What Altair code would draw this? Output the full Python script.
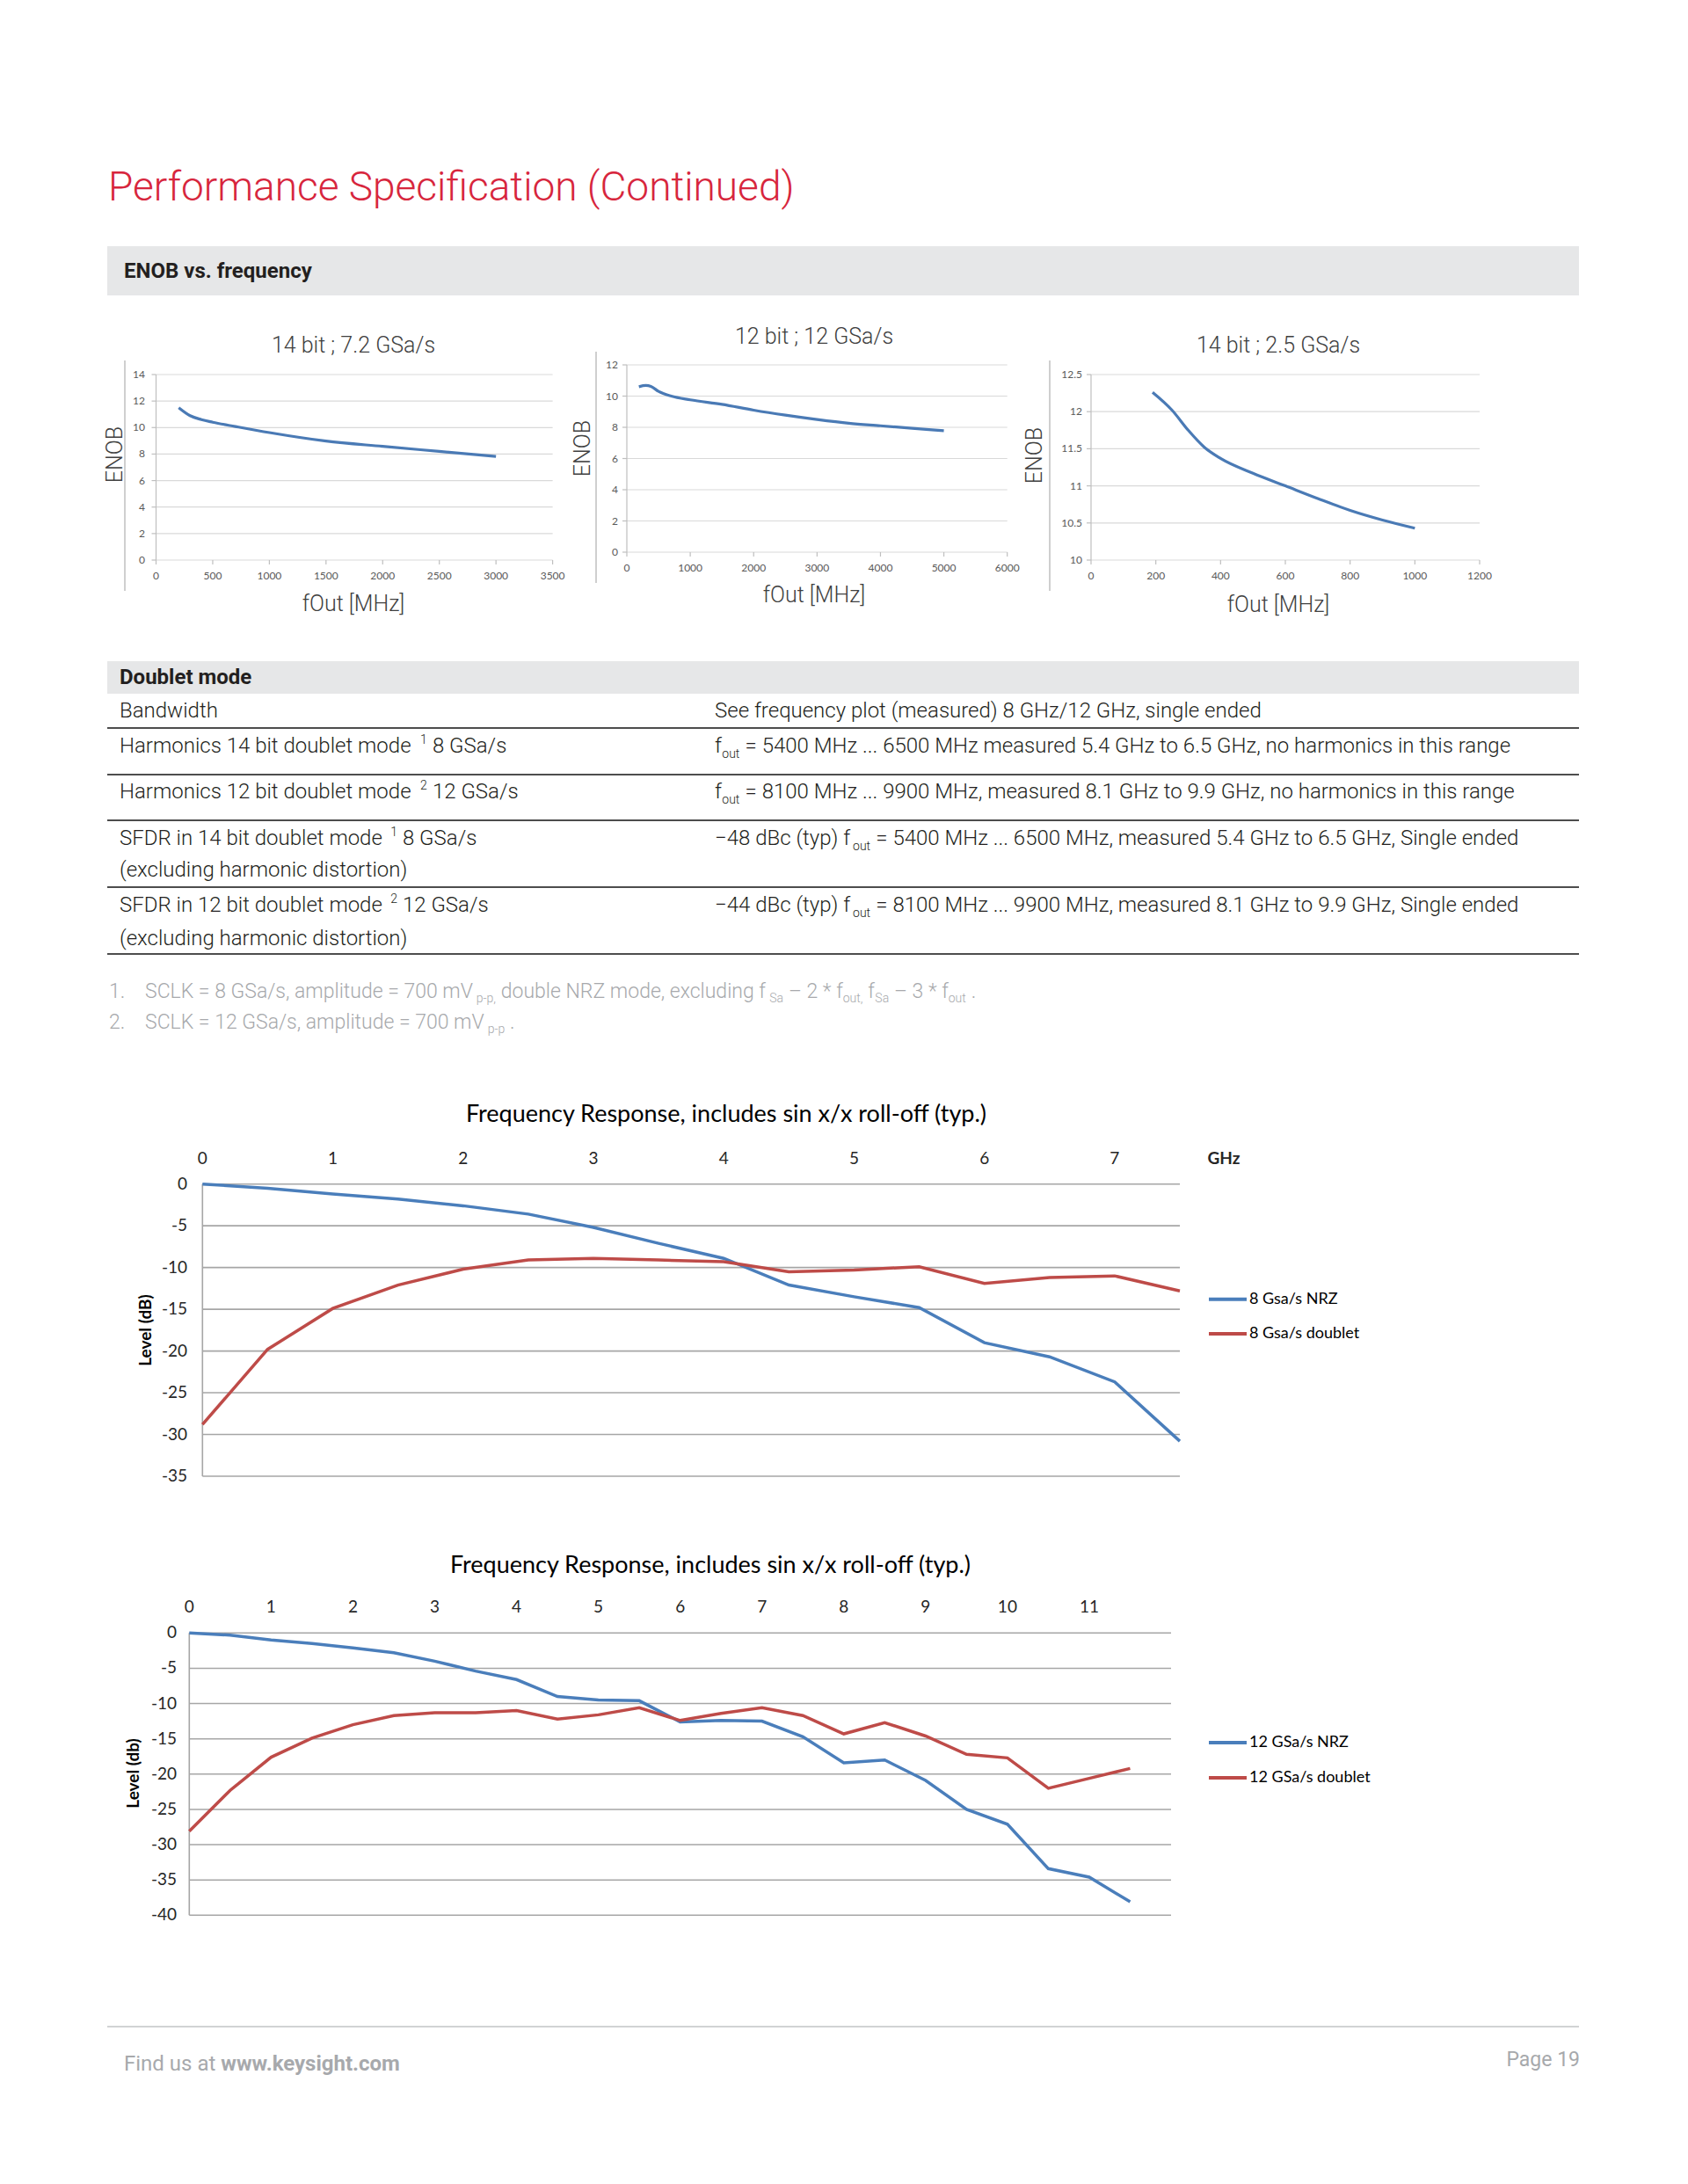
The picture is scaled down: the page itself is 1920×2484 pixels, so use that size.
import altair as alt
import pandas as pd

# ---------------- data ----------------
enob1_freq = [200, 300, 400, 500, 700, 1000, 1500, 2000, 2500, 3000]
enob1_val = [11.5, 10.9, 10.6, 10.4, 10.08, 9.62, 8.98, 8.58, 8.2, 7.82]
enob1_xticks = [0, 500, 1000, 1500, 2000, 2500, 3000, 3500]
enob1_yticks = [0, 2, 4, 6, 8, 10, 12, 14]

enob2_freq = [190, 300, 380, 500, 700, 1000, 1500, 2000, 2500, 3000, 3500, 4000, 4500, 5000]
enob2_val = [10.6, 10.68, 10.62, 10.3, 10.0, 9.76, 9.47, 9.1, 8.78, 8.5, 8.26, 8.1, 7.94, 7.78]
enob2_xticks = [0, 1000, 2000, 3000, 4000, 5000, 6000]
enob2_yticks = [0, 2, 4, 6, 8, 10, 12]

enob3_freq = [190, 250, 300, 350, 400, 500, 600, 700, 800, 900, 1000]
enob3_val = [12.26, 12.02, 11.75, 11.52, 11.37, 11.17, 11.0, 10.83, 10.67, 10.54, 10.43]
enob3_xticks = [0, 200, 400, 600, 800, 1000, 1200]
enob3_yticks = [10, 10.5, 11, 11.5, 12, 12.5]

enob_titles = ["14 bit ; 7.2 GSa/s", "12 bit ; 12 GSa/s", "14 bit ; 2.5 GSa/s"]

fr1_freq = [0, 0.5, 1, 1.5, 2, 2.5, 3, 3.5, 4, 4.5, 5, 5.5, 6, 6.5, 7, 7.5]
fr1_nrz = [0, -0.5, -1.2, -1.8, -2.6, -3.6, -5.2, -7.1, -8.9, -12.1, -13.5, -14.8, -19.0, -20.7, -23.7, -30.8]
fr1_doublet = [-28.8, -19.8, -14.9, -12.1, -10.2, -9.1, -8.9, -9.1, -9.3, -10.5, -10.3, -9.9, -11.9, -11.2, -11.0, -12.8]
fr1_series = ["8 Gsa/s NRZ", "8 Gsa/s doublet"]
fr1_xticks = [0, 1, 2, 3, 4, 5, 6, 7]
fr1_yticks = [0, -5, -10, -15, -20, -25, -30, -35]

fr2_freq = [0, 0.5, 1, 1.5, 2, 2.5, 3, 3.5, 4, 4.5, 5, 5.5, 6, 6.5, 7, 7.5, 8, 8.5, 9, 9.5, 10, 10.5, 11, 11.5]
fr2_nrz = [0, -0.3, -1.0, -1.5, -2.1, -2.8, -4.0, -5.4, -6.6, -9.0, -9.5, -9.6, -12.6, -12.4, -12.5, -14.7,
           -18.4, -18.0, -20.9, -25.0, -27.1, -33.4, -34.6, -38.1]
fr2_doublet = [-28.1, -22.3, -17.6, -14.9, -13.0, -11.7, -11.3, -11.3, -11.0, -12.2, -11.6, -10.6, -12.4, -11.4,
               -10.6, -11.7, -14.3, -12.7, -14.6, -17.2, -17.7, -22.0, -20.6, -19.2]
fr2_series = ["12 GSa/s NRZ", "12 GSa/s doublet"]
fr2_xticks = [0, 1, 2, 3, 4, 5, 6, 7, 8, 9, 10, 11]
fr2_yticks = [0, -5, -10, -15, -20, -25, -30, -35, -40]

fr_title = "Frequency Response, includes sin x/x roll-off (typ.)"

# table text segments: (text, kind) with kind n = normal, sub = subscript, sup = superscript
table_left = [
    [("Bandwidth", "n")],
    [("Harmonics 14 bit doublet mode ", "n"), ("1", "sup"), (" 8 GSa/s", "n")],
    [("Harmonics 12 bit doublet mode ", "n"), ("2", "sup"), (" 12 GSa/s", "n")],
    [("SFDR in 14 bit doublet mode ", "n"), ("1", "sup"), (" 8 GSa/s", "n")],
    [("SFDR in 12 bit doublet mode ", "n"), ("2", "sup"), (" 12 GSa/s", "n")],
]
table_left2 = ["", "", "", "(excluding harmonic distortion)", "(excluding harmonic distortion)"]
table_right = [
    [("See frequency plot (measured) 8 GHz/12 GHz, single ended", "n")],
    [("f", "n"), ("out", "sub"), (" = 5400 MHz ... 6500 MHz measured 5.4 GHz to 6.5 GHz, no harmonics in this range", "n")],
    [("f", "n"), ("out", "sub"), (" = 8100 MHz ... 9900 MHz, measured 8.1 GHz to 9.9 GHz, no harmonics in this range", "n")],
    [("−48 dBc (typ) f", "n"), ("out", "sub"), (" = 5400 MHz ... 6500 MHz, measured 5.4 GHz to 6.5 GHz, Single ended", "n")],
    [("−44 dBc (typ) f", "n"), ("out", "sub"), (" = 8100 MHz ... 9900 MHz, measured 8.1 GHz to 9.9 GHz, Single ended", "n")],
]
footnotes = [
    [("SCLK = 8 GSa/s, amplitude = 700 mV", "n"), ("p-p,", "sub"), (" double NRZ mode, excluding f", "n"),
     ("Sa", "sub"), (" – 2 * f", "n"), ("out,", "sub"), (" f", "n"), ("Sa", "sub"), (" – 3 * f", "n"),
     ("out", "sub"), (" .", "n")],
    [("SCLK = 12 GSa/s, amplitude = 700 mV", "n"), ("p-p", "sub"), (" .", "n")],
]

# ---------------- styles / helpers ----------------
M = 8
def P(v):
    return v - M

RED = "#d7263d"
BAR = "#e6e7e8"
INK = "#231f20"
GREY = "#a7a9ac"
ENOB_BLUE = "#4a7ab5"
FR_BLUE = "#4a7ebb"
FR_RED = "#be4b48"

# approximate Roboto advance widths (em)
W = {" ": .248, "(": .342, ")": .348, "*": .431, ",": .196, "-": .276, ".": .263, "/": .412, "=": .549,
     "−": .568, "–": .6, ";": .212,
     "A": .652, "B": .622, "C": .650, "D": .655, "E": .568, "F": .553, "G": .681, "H": .713, "I": .272,
     "K": .627, "L": .538, "M": .873, "N": .713, "O": .688, "P": .631, "R": .616, "S": .593, "T": .597,
     "V": .636, "Z": .599,
     "a": .544, "b": .561, "c": .523, "d": .564, "e": .529, "f": .347, "g": .561, "h": .551, "i": .243,
     "j": .239, "k": .507, "l": .243, "m": .876, "n": .552, "o": .570, "p": .561, "q": .568, "r": .339,
     "s": .516, "t": .327, "u": .551, "v": .484, "w": .751, "x": .496, "y": .473, "z": .496}
for dgt in "0123456789":
    W[dgt] = .562


def tw(s, size):
    return sum(W.get(c, .55) for c in s) * size


dummy = pd.DataFrame({"d": [0]})
layers = []


def text(s, x, y, size, color=INK, font="Roboto", weight=300, align="left", baseline="middle", angle=None):
    kw = dict(align=align, baseline=baseline, fontSize=size, font=font, fontWeight=weight, color=color)
    if angle is not None:
        kw["angle"] = angle
    return alt.Chart(dummy).mark_text(**kw).encode(
        x=alt.value(P(x)), y=alt.value(P(y)), text=alt.value(s))


def chain(segs, x, y, size, small, color=INK, weight=300, sub_dy=9, sup_dy=-7):
    out = []
    for s, kind in segs:
        sz = size if kind == "n" else small
        lead = len(s) - len(s.lstrip(" "))
        x += lead * W[" "] * sz
        core = s.strip(" ")
        dy = sub_dy if kind == "sub" else (sup_dy if kind == "sup" else 0)
        if core:
            out.append(text(core, x, y + dy, sz, color=color, weight=weight))
        x += tw(core, sz)
        trail = len(s.lstrip(" ")) - len(core)
        x += trail * W[" "] * sz
    return out


def hrule(x0, x1, y, color, w):
    return alt.Chart(dummy).mark_rule(color=color, strokeWidth=w).encode(
        x=alt.value(P(x0)), x2=alt.value(P(x1)), y=alt.value(P(y)))


def vrule(x, y0, y1, color, w):
    return alt.Chart(dummy).mark_rule(color=color, strokeWidth=w).encode(
        x=alt.value(P(x)), y=alt.value(P(y0)), y2=alt.value(P(y1)))


def rect(x0, x1, y0, y1, color):
    return alt.Chart(dummy).mark_rect(color=color).encode(
        x=alt.value(P(x0)), x2=alt.value(P(x1)), y=alt.value(P(y0)), y2=alt.value(P(y1)))


def enob_panel(freq, val, xticks, yticks, title, g):
    xs = alt.Scale(domain=[xticks[0], xticks[-1]], range=[P(g["x0"]), P(g["x1"])], nice=False, zero=False)
    ys = alt.Scale(domain=[yticks[0], yticks[-1]], range=[P(g["yb"]), P(g["yt"])], nice=False, zero=False)
    xdf = pd.DataFrame({"t": xticks, "lab": [f"{t:g}" for t in xticks]})
    ydf = pd.DataFrame({"t": yticks, "lab": [f"{t:g}" for t in yticks]})
    ydf["a"] = xticks[0]
    ydf["b"] = xticks[-1]
    out = []
    out.append(alt.Chart(ydf).mark_rule(color="#d9d9d9", strokeWidth=1.2).encode(
        x=alt.X("a:Q", scale=xs, axis=None), x2="b:Q", y=alt.Y("t:Q", scale=ys, axis=None)))
    out.append(alt.Chart(pd.DataFrame({"x": [xticks[0]], "y0": [yticks[0]], "y1": [yticks[-1]]}))
               .mark_rule(color="#bfbfbf", strokeWidth=1.2).encode(
        x=alt.X("x:Q", scale=xs, axis=None), y=alt.Y("y0:Q", scale=ys, axis=None), y2="y1:Q"))
    out.append(alt.Chart(xdf).mark_rule(color="#bfbfbf", strokeWidth=1.2).encode(
        x=alt.X("t:Q", scale=xs, axis=None), y=alt.value(P(g["yb"])), y2=alt.value(P(g["yb"] + 5))))
    out.append(alt.Chart(ydf).mark_rule(color="#bfbfbf", strokeWidth=1.2).encode(
        y=alt.Y("t:Q", scale=ys, axis=None), x=alt.value(P(g["x0"] - 5)), x2=alt.value(P(g["x0"]))))
    out.append(alt.Chart(xdf).mark_text(font="Lato", fontSize=12, color="#595959", baseline="middle").encode(
        x=alt.X("t:Q", scale=xs, axis=None), y=alt.value(P(g["xlab_y"])), text="lab:N"))
    out.append(alt.Chart(ydf).mark_text(font="Lato", fontSize=12, color="#595959", align="right",
                                        baseline="middle").encode(
        y=alt.Y("t:Q", scale=ys, axis=None), x=alt.value(P(g["ylab_x"])), text="lab:N"))
    out.append(alt.Chart(pd.DataFrame({"f": freq, "v": val})).mark_line(
        color=ENOB_BLUE, strokeWidth=3.2, interpolate="monotone").encode(
        x=alt.X("f:Q", scale=xs, axis=None), y=alt.Y("v:Q", scale=ys, axis=None)))
    out.append(text(title, g["tx"], g["ty"], 25, color="#404040", align="center"))
    out.append(text("ENOB", g["ex"], g["ey"], 25, color="#404040", align="center", angle=270))
    out.append(text("fOut [MHz]", g["tx"], g["xty"], 25, color="#404040", align="center"))
    out.append(vrule(g["sep"], g["sep0"], g["sep1"], "#bfbfbf", 1.5))
    return out


def fr_panel(freq, nrz, dbl, names, xticks, xmax, yticks, ytitle, g):
    xs = alt.Scale(domain=[0, xmax], range=[P(g["x0"]), P(g["x1"])], nice=False, zero=False)
    ys = alt.Scale(domain=[yticks[-1], yticks[0]], range=[P(g["yb"]), P(g["yt"])], nice=False, zero=False)
    xdf = pd.DataFrame({"t": xticks, "lab": [f"{t:g}" for t in xticks]})
    ydf = pd.DataFrame({"t": yticks, "lab": [f"{t:g}" for t in yticks]})
    ydf["a"] = 0
    ydf["b"] = xmax
    df = pd.DataFrame({"f": freq + freq, "v": nrz + dbl,
                       "s": [names[0]] * len(freq) + [names[1]] * len(freq)})
    out = []
    out.append(alt.Chart(ydf).mark_rule(color="#a6a6a6", strokeWidth=1.6).encode(
        x=alt.X("a:Q", scale=xs, axis=None), x2="b:Q", y=alt.Y("t:Q", scale=ys, axis=None)))
    out.append(alt.Chart(pd.DataFrame({"x": [0], "y0": [yticks[-1]], "y1": [yticks[0]]}))
               .mark_rule(color="#a6a6a6", strokeWidth=1.6).encode(
        x=alt.X("x:Q", scale=xs, axis=None), y=alt.Y("y0:Q", scale=ys, axis=None), y2="y1:Q"))
    out.append(alt.Chart(xdf).mark_text(font="Lato", fontSize=19, color="#262626", baseline="middle").encode(
        x=alt.X("t:Q", scale=xs, axis=None), y=alt.value(P(g["xlab_y"])), text="lab:N"))
    out.append(alt.Chart(ydf).mark_text(font="Lato", fontSize=19, color="#262626", align="right",
                                        baseline="middle").encode(
        y=alt.Y("t:Q", scale=ys, axis=None), x=alt.value(P(g["ylab_x"])), text="lab:N"))
    out.append(alt.Chart(df).mark_line(strokeWidth=3.5).encode(
        x=alt.X("f:Q", scale=xs, axis=None), y=alt.Y("v:Q", scale=ys, axis=None),
        color=alt.Color("s:N", scale=alt.Scale(domain=names, range=[FR_BLUE, FR_RED]), legend=None)))
    out.append(text(fr_title, g["tx"], g["ty"], 27, color="#000000", font="Lato", weight=400, align="center"))
    out.append(text(ytitle, g["lx"], g["ly"], 19, color="#000000", font="Lato", weight=700,
                    align="center", angle=270))
    if g.get("ghz"):
        out.append(text("GHz", g["ghz"], g["xlab_y"], 19, color="#262626", font="Lato", weight=700, align="center"))
    for i, (nm, col) in enumerate(zip(names, [FR_BLUE, FR_RED])):
        yy = g["leg_y"][i]
        out.append(hrule(1375, 1418, yy, col, 4))
        out.append(text(nm, 1421, yy, 18, color="#000000", font="Lato", weight=400))
    return out


# ---------------- page header ----------------
layers.append(text("Performance Specification (Continued)", 123, 214, 46, color=RED, weight=300))
layers.append(rect(122, 1796, 280, 336, BAR))
layers.append(text("ENOB vs. frequency", 141, 309, 24, color=INK, weight=700))

# ---------------- ENOB charts ----------------
layers += enob_panel(enob1_freq, enob1_val, enob1_xticks, enob1_yticks, enob_titles[0], dict(
    x0=177.5, x1=628.6, yb=637, yt=426, xlab_y=655, ylab_x=165, tx=402, ty=393, ex=131, ey=517,
    xty=687, sep=142, sep0=410, sep1=672))
layers += enob_panel(enob2_freq, enob2_val, enob2_xticks, enob2_yticks, enob_titles[1], dict(
    x0=713, x1=1145.7, yb=628, yt=415, xlab_y=646, ylab_x=703, tx=926, ty=383, ex=663, ey=510,
    xty=677, sep=678, sep0=400, sep1=663))
layers += enob_panel(enob3_freq, enob3_val, enob3_xticks, enob3_yticks, enob_titles[2], dict(
    x0=1241, x1=1683, yb=637, yt=426, xlab_y=655, ylab_x=1231, tx=1454, ty=393, ex=1177, ey=518,
    xty=688, sep=1194, sep0=410, sep1=672))

# ---------------- doublet table ----------------
layers.append(rect(122, 1796, 752, 789, BAR))
layers.append(text("Doublet mode", 136, 771, 24, color=INK, weight=700))
TS = 24
SS = 14
C1, C2 = 136, 813
row_y = [809, 849, 901, 954, 1030]
row_y2 = [0, 0, 0, 990, 1068]
for i in range(5):
    layers += chain(table_left[i], C1, row_y[i], TS, SS)
    layers += chain(table_right[i], C2, row_y[i], TS, SS)
    if table_left2[i]:
        layers.append(text(table_left2[i], C1, row_y2[i], TS))
for yl in [828, 881, 933, 1009, 1085]:
    layers.append(hrule(122, 1796, yl, "#4d4d4d", 2))

# ---------------- footnotes ----------------
FS = 23
for i, (segs, yy) in enumerate(zip(footnotes, [1128, 1163])):
    layers.append(text(f"{i + 1}.", 124, yy, FS, color=GREY))
    layers += chain(segs, 165, yy, FS, 14, color=GREY, sub_dy=8)

# ---------------- frequency response charts ----------------
layers += fr_panel(fr1_freq, fr1_nrz, fr1_doublet, fr1_series, fr1_xticks, 7.5, fr1_yticks, "Level (dB)", dict(
    x0=230.3, x1=1342, yb=1679, yt=1346.7, xlab_y=1318, ylab_x=213, tx=826, ty=1268, lx=166, ly=1513,
    ghz=1392, leg_y=[1477.7, 1517]))
layers += fr_panel(fr2_freq, fr2_nrz, fr2_doublet, fr2_series, fr2_xticks, 12, fr2_yticks, "Level (db)", dict(
    x0=215.3, x1=1332, yb=2178.3, yt=1857.3, xlab_y=1828, ylab_x=201, tx=808, ty=1781, lx=152, ly=2017,
    leg_y=[1982, 2022]))

# ---------------- footer ----------------
layers.append(hrule(122, 1796, 2305, "#d1d3d4", 2))
layers.append(text("Find us at", 141, 2348, 24, color=GREY, weight=400))
layers.append(text("www.keysight.com", 141 + tw("Find us at ", 24), 2348, 24, color=GREY, weight=700))
layers.append(text("Page 19", 1797, 2343, 23, color=GREY, weight=400, align="right"))

chart = alt.layer(*layers).resolve_scale(x="independent", y="independent", color="independent").properties(
    width=1904, height=2460, autosize=alt.AutoSizeParams(type="none"), padding=0,
    background="#ffffff").configure_view(strokeWidth=0)

chart.save("out.html", embed_options={"renderer": "svg", "actions": False})
